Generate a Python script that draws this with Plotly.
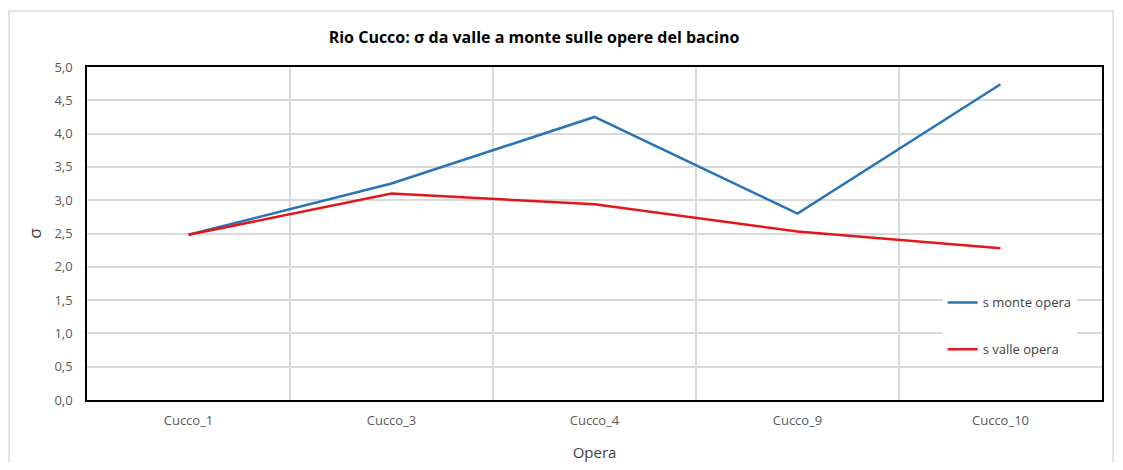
import plotly.graph_objects as go

# data
opere = ["Cucco_1", "Cucco_3", "Cucco_4", "Cucco_9", "Cucco_10"]
s_monte = [2.48, 3.25, 4.25, 2.80, 4.74]
s_valle = [2.48, 3.10, 2.94, 2.53, 2.28]
y_ticks = [0, 0.5, 1, 1.5, 2, 2.5, 3, 3.5, 4, 4.5, 5]

FONT = "Open Sans"
GRAY = "#595959"
GRID = "#d9d9d9"

fig = go.Figure()
fig.add_trace(go.Scatter(x=opere, y=s_monte, mode="lines", name="s monte opera",
                         legendgroup="monte", line={"color": "#2874b4", "width": 2.5}))
fig.add_trace(go.Scatter(x=opere, y=s_valle, mode="lines", name="s valle opera",
                         legendgroup="valle", line={"color": "#e3161c", "width": 2.5}))

# the page body has an 8px margin, so the figure is a bit smaller than the window
fig.update_layout(
    width=1107, height=454,
    margin={"l": 79, "r": 13, "t": 59, "b": 62},
    paper_bgcolor="white", plot_bgcolor="white",
    separators=",.",
    font={"family": FONT, "color": GRAY, "size": 12},
    title={"text": "<b>Rio Cucco: σ da valle a monte sulle opere del bacino</b>",
           "font": {"family": FONT, "size": 16, "color": "black"},
           "x": (534 - 87) / 1015, "xref": "paper", "xanchor": "center",
           "y": 1 - 29 / 454, "yanchor": "middle"},
    legend={"x": 0.843, "y": 0.338, "xanchor": "left", "yanchor": "top",
            "bgcolor": "white", "traceorder": "grouped", "tracegroupgap": 27,
            "font": {"size": 13, "color": "#404040"}},
    shapes=[{"type": "rect", "xref": "paper", "yref": "paper",
             "x0": (9 - 87) / 1015, "x1": (1113 - 87) / 1015,
             "y0": -0.3, "y1": (400 - 11) / 333,
             "line": {"color": GRID, "width": 1.5}, "layer": "below"}],
)

fig.update_xaxes(
    type="category", tickson="boundaries", ticks="", range=[-0.5, 4.5],
    automargin=False, ticklabelstandoff=8,
    showgrid=True, gridcolor=GRID, gridwidth=1.5,
    showline=True, mirror=True, linecolor="black", linewidth=1.5,
    tickfont={"size": 13, "color": GRAY},
    title={"text": "Opera", "font": {"size": 15, "color": "#404040"}, "standoff": 21},
)
fig.update_yaxes(
    range=[0, 5], tickvals=y_ticks, tickformat=".1f", automargin=False,
    showgrid=True, gridcolor=GRID, gridwidth=1.5, zeroline=False,
    showline=True, mirror=True, linecolor="black", linewidth=1.5,
    ticks="", ticklabelstandoff=10,
    tickfont={"size": 13, "color": GRAY},
    title={"text": "σ", "font": {"size": 17, "color": "#404040"}, "standoff": 8},
)

fig.write_html("out.html")
